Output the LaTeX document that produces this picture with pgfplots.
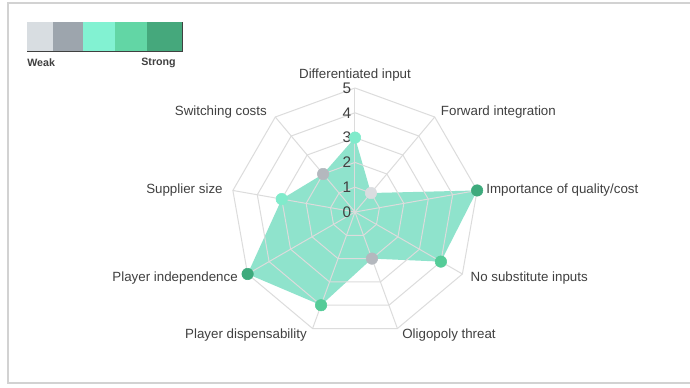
\documentclass[border=0pt]{standalone}
\usepackage{pgfplots}
\pgfplotsset{compat=1.18}
\usepgfplotslibrary{polar}
\usepackage{fontspec}
\setmainfont{Liberation Sans}
\definecolor{lA}{HTML}{D8DDE1}
\definecolor{lB}{HTML}{9DA5AD}
\definecolor{lC}{HTML}{82F2D2}
\definecolor{lD}{HTML}{62D6A5}
\definecolor{lE}{HTML}{45A87C}
\definecolor{fillc}{HTML}{8FE3CC}
\definecolor{gridc}{HTML}{DCDCDC}
\definecolor{mA}{HTML}{DADDE0}
\definecolor{mB}{HTML}{B4B8BE}
\definecolor{mC}{HTML}{80EBCB}
\definecolor{mD}{HTML}{55CC98}
\definecolor{mE}{HTML}{3DAA7C}
\definecolor{txt}{HTML}{404040}
\definecolor{framec}{HTML}{D2D2D2}
\begin{document}
\begin{tikzpicture}[x=0.75pt,y=0.75pt]
\path[use as bounding box, fill=white] (0,0) rectangle (690,387);
\draw[framec, line width=1.5pt] (690,384) -- (7.5,384) -- (7.5,4) -- (690,4);
% colour scale
\fill[lA] (27,336) rectangle (53,365);
\fill[lB] (53,336) rectangle (83,365);
\fill[lC] (83,336) rectangle (115,365);
\fill[lD] (115,336) rectangle (147,365);
\fill[lE] (147,336) rectangle (182,365);
\draw[txt, line width=0.75pt] (27,336) -- (182,336) -- (182,365);
\node[anchor=west, inner sep=0, text=txt, font=\bfseries\fontsize{8}{9}\selectfont] at (27,324) {Weak};
\node[anchor=east, inner sep=0, text=txt, font=\bfseries\fontsize{8}{9}\selectfont] at (176,324) {Strong};
\begin{polaraxis}[at={(266.25pt,131.25pt)}, anchor=center, scale only axis, width=186pt, height=186pt,
  xmin=0, xmax=360, ymin=0, ymax=5, hide axis, clip=false]
% filled area
\addplot[fill=fillc, draw=none] coordinates {(90,3) (50,1) (10,5) (330,4) (290,2) (250,4) (210,5) (170,3) (130,2)} -- cycle;
% grid rings
\pgfplotsinvokeforeach{1,...,5}{
\addplot[gridc, line width=0.75pt] coordinates {(90,#1) (50,#1) (10,#1) (330,#1) (290,#1) (250,#1) (210,#1) (170,#1) (130,#1) (90,#1)};
}
% spokes
\pgfplotsinvokeforeach{90,50,10,330,290,250,210,170,130}{
\addplot[gridc, line width=0.75pt] coordinates {(#1,0) (#1,5)};
}
% markers by strength
\addplot[only marks, mark=*, mark size=4.3pt, color=mA] coordinates {(50,1)};
\addplot[only marks, mark=*, mark size=4.3pt, color=mB] coordinates {(290,2) (130,2)};
\addplot[only marks, mark=*, mark size=4.3pt, color=mC] coordinates {(90,3) (170,3)};
\addplot[only marks, mark=*, mark size=4.3pt, color=mD] coordinates {(330,4) (250,4)};
\addplot[only marks, mark=*, mark size=4.3pt, color=mE] coordinates {(10,5) (210,5)};
% radial tick labels
\pgfplotsinvokeforeach{0,...,5}{
\node[text=txt, inner sep=0, font=\fontsize{11.5}{13}\selectfont, xshift=-6pt] at (axis cs:90,#1) {#1};
}
% category labels
\begin{scope}[every node/.style={inner sep=0, text=txt, font=\fontsize{10}{12}\selectfont}]
\node[anchor=center, yshift=9.75pt] at (axis cs:90,5) {Differentiated input};
\node[anchor=west, xshift=4.5pt, yshift=3.75pt] at (axis cs:50,5) {Forward integration};
\node[anchor=west, xshift=6.75pt] at (axis cs:10,5) {Importance of quality/cost};
\node[anchor=west, xshift=6pt, yshift=-3pt] at (axis cs:330,5) {No substitute inputs};
\node[anchor=west, xshift=3.5pt, yshift=-4.9pt] at (axis cs:290,5) {Oligopoly threat};
\node[anchor=east, xshift=-4.2pt, yshift=-4.9pt] at (axis cs:250,5) {Player dispensability};
\node[anchor=east, xshift=-7.2pt, yshift=-3pt] at (axis cs:210,5) {Player independence};
\node[anchor=east, xshift=-7.5pt] at (axis cs:170,5) {Supplier size};
\node[anchor=east, xshift=-6.2pt, yshift=3.75pt] at (axis cs:130,5) {Switching costs};
\end{scope}
\end{polaraxis}
\end{tikzpicture}
\end{document}
